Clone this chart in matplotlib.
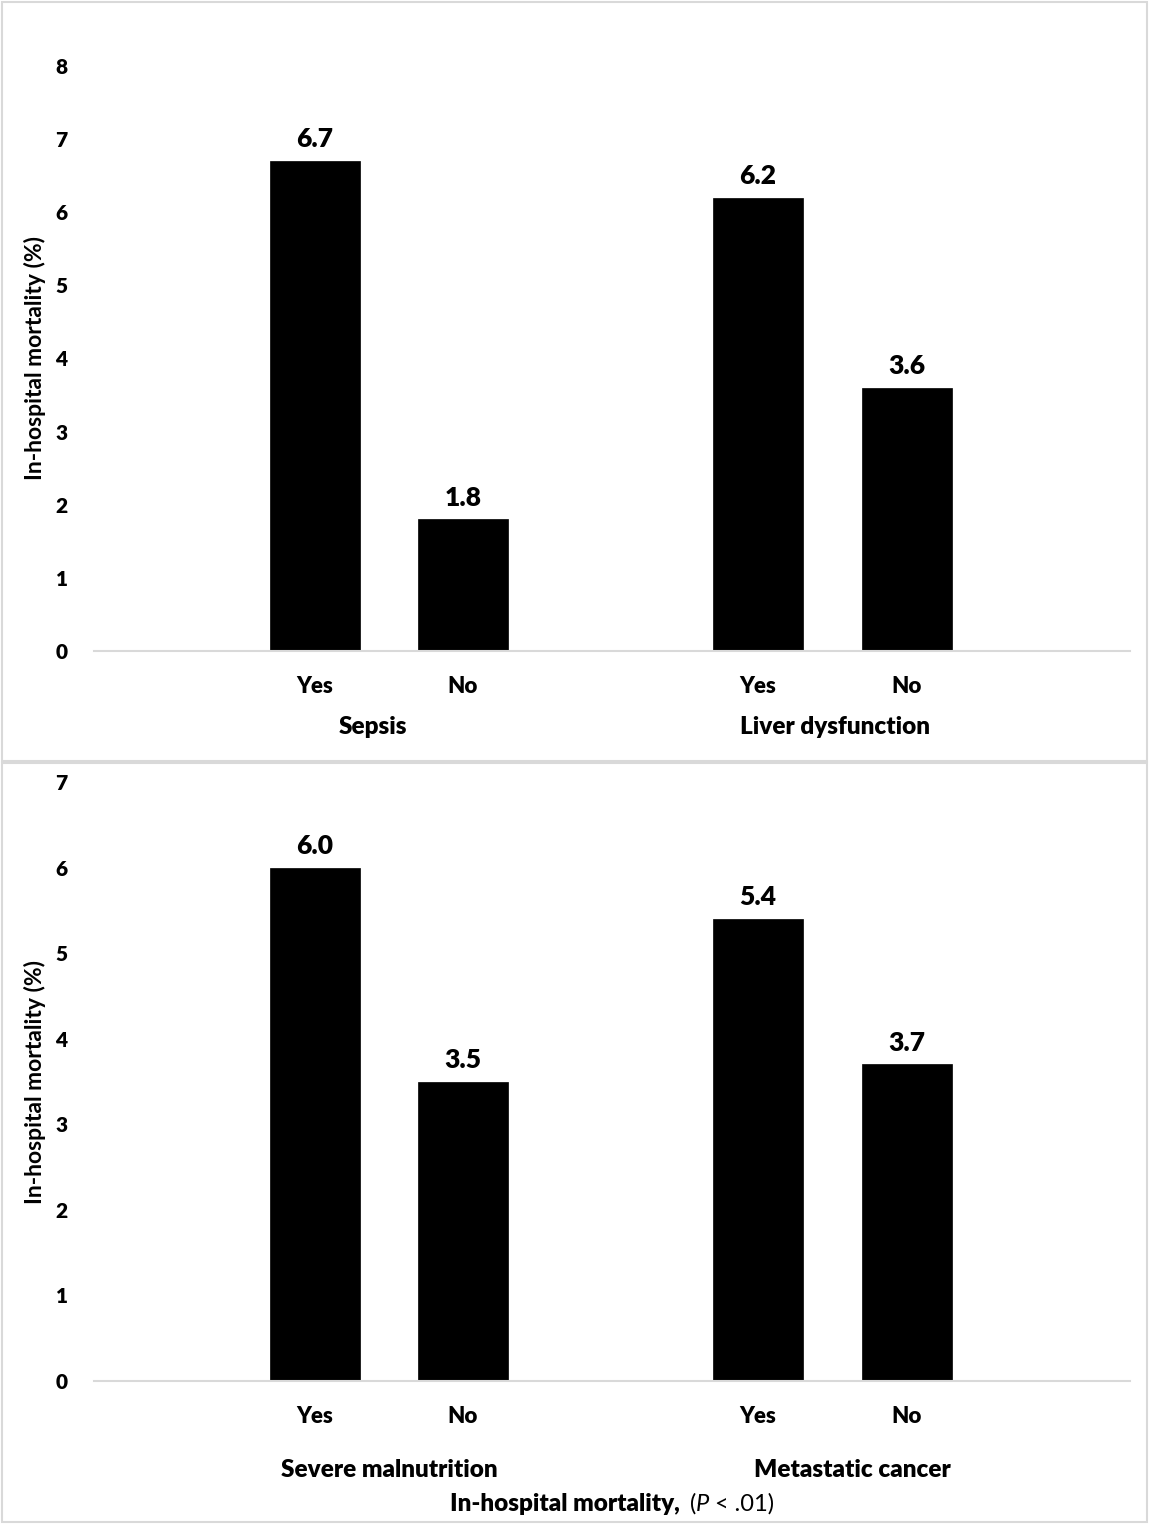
import matplotlib
matplotlib.use("Agg")
import matplotlib.pyplot as plt
from matplotlib.patches import Rectangle
from matplotlib.transforms import blended_transform_factory

plt.rcParams['font.family'] = ['Lato', 'DejaVu Sans']

# ---- data ----
bar_labels = ["Yes", "No", "Yes", "No"]
top_groups = ["Sepsis", "Liver dysfunction"]
top_values = [6.7, 1.8, 6.2, 3.6]
bottom_groups = ["Severe malnutrition", "Metastatic cancer"]
bottom_values = [6.0, 3.5, 5.4, 3.7]
ylabel = "In-hospital mortality (%)"
top_yticks = [0, 1, 2, 3, 4, 5, 6, 7, 8]
bottom_yticks = [0, 1, 2, 3, 4, 5, 6, 7]

W, H = 1150, 1524
fig = plt.figure(figsize=(W / 100, H / 100), dpi=100)

# bar positions (axis units in pixel-like scale)
xpos = [315, 463, 758, 907]
bar_w = 90
xlim = (94, 1130)
WEIGHT = "heavy"

def fx(px):
    return px / W

def fy(py):
    return 1 - py / H

def make_panel(ax_rect, values, groups, yticks, group_y_px, group_offsets):
    ax = fig.add_axes(ax_rect)
    ax.bar(xpos, values, width=bar_w, color="black", edgecolor="black", linewidth=0.5)
    ax.set_xlim(*xlim)
    ax.set_ylim(0, yticks[-1])
    ax.set_yticks(yticks)
    ax.set_yticklabels([str(t) for t in yticks], fontsize=15, fontweight=WEIGHT)
    ax.set_xticks(xpos)
    ax.set_xticklabels(bar_labels, fontsize=16, fontweight=WEIGHT)
    ax.tick_params(axis="y", length=0, pad=19)
    ax.tick_params(axis="x", length=0, pad=18)
    for s in ["top", "right", "left"]:
        ax.spines[s].set_visible(False)
    ax.spines["bottom"].set_color("#d9d9d9")
    ax.spines["bottom"].set_linewidth(1.5)
    ax.set_ylabel(ylabel, fontsize=16.5, fontweight="bold", labelpad=7)
    for x, v in zip(xpos, values):
        ax.annotate(f"{v:.1f}", xy=(x, v), xytext=(0, 7), textcoords="offset points",
                    ha="center", va="bottom", fontsize=19, fontweight=WEIGHT)
    trans = blended_transform_factory(ax.transData, fig.transFigure)
    for i, g in enumerate(groups):
        cx = (xpos[2 * i] + xpos[2 * i + 1]) / 2 + group_offsets[i]
        ax.text(cx, fy(group_y_px), g, transform=trans, ha="center", va="center",
                fontsize=17.5, fontweight=WEIGHT)
    return ax

ax1 = make_panel([fx(94), fy(651), fx(1130 - 94), fy(66) - fy(651)],
                 top_values, top_groups, top_yticks, 727, (-16, 2))
ax2 = make_panel([fx(94), fy(1381), fx(1130 - 94), fy(782) - fy(1381)],
                 bottom_values, bottom_groups, bottom_yticks, 1470, (0, 20))

# overall x label with mixed styles
t1 = fig.text(fx(450), fy(1504), "In-hospital mortality, ", ha="left", va="center",
              fontsize=17.5, fontweight=WEIGHT)
ann1 = plt.annotate("(", xy=(1, 0), xycoords=t1, xytext=(3, 0), textcoords="offset points",
                    ha="left", va="bottom", fontsize=17, annotation_clip=False)
ann2 = plt.annotate("P", xy=(1, 0), xycoords=ann1, ha="left", va="bottom",
                    fontsize=17, fontstyle="italic", annotation_clip=False)
ann3 = plt.annotate(" < .01)", xy=(1, 0), xycoords=ann2, ha="left", va="bottom",
                    fontsize=17, annotation_clip=False)

# panel borders
for (x0, y0, x1, y1) in [(2, 2, 1147, 761), (2, 763, 1147, 1522)]:
    fig.patches.append(Rectangle((fx(x0), fy(y1)), fx(x1 - x0), fy(y0) - fy(y1),
                                 transform=fig.transFigure, fill=False,
                                 edgecolor="#d9d9d9", linewidth=1.5))

fig.savefig("out.png", dpi=100)
